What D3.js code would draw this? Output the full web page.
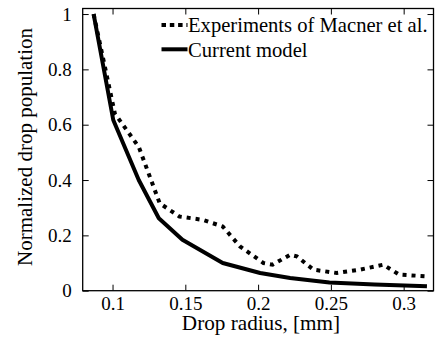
<!DOCTYPE html>
<html>
<head>
<meta charset="utf-8">
<script src="https://cdnjs.cloudflare.com/ajax/libs/d3/7.8.5/d3.min.js"></script>
<style>
  body { margin: 0; background: #fff; }
</style>
</head>
<body>
<script>
// drop radius [mm] and normalized population
var expRadius = [0.087, 0.1016, 0.118, 0.1324, 0.146, 0.162, 0.1757, 0.1876, 0.2037, 0.21, 0.222, 0.2266, 0.238, 0.254, 0.27, 0.286, 0.297, 0.316];
var expPop    = [1.0, 0.64, 0.52, 0.316, 0.268, 0.256, 0.232, 0.16, 0.10, 0.094, 0.13, 0.124, 0.076, 0.064, 0.076, 0.094, 0.058, 0.052];

var modelRadius = [0.087, 0.1005, 0.118, 0.1318, 0.148, 0.1757, 0.2014, 0.222, 0.249, 0.28, 0.316];
var modelPop    = [1.0, 0.617, 0.40, 0.262, 0.184, 0.10, 0.064, 0.046, 0.030, 0.022, 0.016];

var xTicks = [0.1, 0.15, 0.2, 0.25, 0.3];
var yTicks = [0, 0.2, 0.4, 0.6, 0.8, 1];

var legendLabels = ["Experiments of Macner et al.", "Current model"];

var width = 437, height = 345;
var margin = {top: 8.5, right: 3.5, bottom: 54.3, left: 82.7};
var FONT = "'Liberation Serif', 'Times New Roman', serif";

var svg = d3.select("body").append("svg")
    .attr("width", width)
    .attr("height", height)
    .attr("font-family", FONT);

var x = d3.scaleLinear().domain([0.0795, 0.3205]).range([margin.left, width - margin.right]);
var y = d3.scaleLinear().domain([0, 1.02]).range([height - margin.bottom, margin.top]);

var fmt = function(d){ return d3.format("")(d); };
var x0 = x.domain()[0], x1 = x.domain()[1], yTop = y.domain()[1];

// axes with inward ticks, on all four sides
svg.append("g")
    .attr("transform", "translate(0," + y(0) + ")")
    .call(d3.axisBottom(x).tickValues(xTicks).tickSizeInner(-6).tickSizeOuter(0).tickPadding(6).tickFormat(fmt));
svg.append("g")
    .attr("transform", "translate(0," + y(yTop) + ")")
    .call(d3.axisTop(x).tickValues(xTicks).tickSizeInner(-6).tickSizeOuter(0).tickFormat(""));
svg.append("g")
    .attr("transform", "translate(" + x(x0) + ",0)")
    .call(d3.axisLeft(y).tickValues(yTicks).tickSizeInner(-6).tickSizeOuter(0).tickPadding(11).tickFormat(fmt));
svg.append("g")
    .attr("transform", "translate(" + x(x1) + ",0)")
    .call(d3.axisRight(y).tickValues(yTicks).tickSizeInner(-6).tickSizeOuter(0).tickFormat(""));

svg.selectAll("g").attr("font-family", FONT).attr("font-size", 19);
svg.selectAll(".domain").remove();
svg.selectAll(".tick line").attr("stroke", "#000");
svg.selectAll(".tick text").attr("fill", "#000");

svg.append("rect")
    .attr("x", x(x0)).attr("y", y(yTop))
    .attr("width", x(x1) - x(x0)).attr("height", y(0) - y(yTop))
    .attr("fill", "none").attr("stroke", "#000").attr("stroke-width", 1.3);

var line = d3.line()
    .x(function(d){ return x(d[0]); })
    .y(function(d){ return y(d[1]); });

svg.append("path")
    .datum(d3.zip(expRadius, expPop))
    .attr("d", line)
    .attr("fill", "none").attr("stroke", "#000")
    .attr("stroke-width", 4).attr("stroke-dasharray", "4,5");

svg.append("path")
    .datum(d3.zip(modelRadius, modelPop))
    .attr("d", line)
    .attr("fill", "none").attr("stroke", "#000")
    .attr("stroke-width", 4).attr("stroke-linejoin", "round");

// legend
var legend = svg.append("g");
legendLabels.forEach(function(lab, i){
  var ly = 25 + i * 24.3;
  legend.append("line")
      .attr("x1", 161.5).attr("x2", 187.5).attr("y1", ly).attr("y2", ly)
      .attr("stroke", "#000").attr("stroke-width", 4)
      .attr("stroke-dasharray", i === 0 ? "4.5,3.8" : null);
  legend.append("text")
      .attr("x", 188).attr("y", ly + 7.3)
      .attr("font-size", 20.6)
      .text(lab);
});

// axis titles
svg.append("text")
    .attr("x", 261).attr("y", 330)
    .attr("text-anchor", "middle")
    .attr("font-size", 21.2)
    .text("Drop radius, [mm]");

svg.append("text")
    .attr("transform", "translate(32,147) rotate(-90)")
    .attr("text-anchor", "middle")
    .attr("font-size", 21)
    .text("Normalized drop population");
</script>
</body>
</html>
